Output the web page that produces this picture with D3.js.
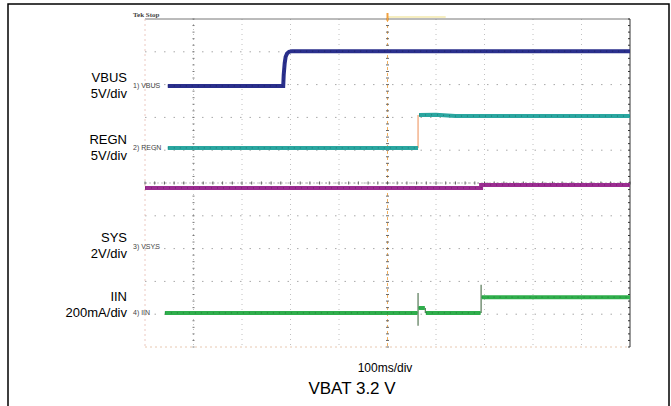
<!DOCTYPE html>
<html>
<head>
<meta charset="utf-8">
<script src="https://cdn.jsdelivr.net/npm/d3@7"></script>
<style>
  body { margin: 0; background: #fff; }
  svg { display: block; font-family: "Liberation Sans", Arial, sans-serif; }
</style>
</head>
<body>
<svg id="chart" width="671" height="406"></svg>
<script>
// time in ms (100 ms/div, 10 div), level in screen divisions (-5..5)
// null = gap in the thick trace (fast edge drawn thin)
const vbusTime  = [47, 285, 286, 288, 290, 293, 297, 303, 1000];
const vbusLevel = [2.96, 2.96, 3.3, 3.65, 3.85, 3.95, 4.0, 4.02, 4.02];

const regnTime  = [47, 563, 563, 565, 600, 640, 1000];
const regnLevel = [1.07, 1.07, null, 2.07, 2.08, 2.04, 2.04];

const sysTime  = [0, 693, 693, 1000];
const sysLevel = [-0.15, -0.15, -0.06, -0.06];

const iinTime  = [41, 562, 563, 564, 577, 578, 579, 692, 693, 694, 1000];
const iinLevel = [-3.96, -3.96, null, -3.81, -3.81, null, -3.96, -3.96, null, -3.48, -3.48];

// thin fast edges: [time, from, to]
const regnEdges = [[563, 1.07, 2.07]];
const iinEdges  = [[563, -3.35, -4.35], [578, -3.81, -3.96], [693, -3.1, -3.96]];

const channels = [
  { name: "VBUS", scale: "5V/div", tag: "1) VBUS", color: "#2a2f8c", t: vbusTime, v: vbusLevel, edges: [], edgeColor: "#2a2f8c" },
  { name: "REGN", scale: "5V/div", tag: "2) REGN", color: "#2aa6a0", t: regnTime, v: regnLevel, edges: regnEdges, edgeColor: "#f0a070" },
  { name: "SYS",  scale: "2V/div", tag: "3) VSYS", color: "#9b2d91", t: sysTime,  v: sysLevel, edges: [], edgeColor: "#9b2d91" },
  { name: "IIN",  scale: "200mA/div", tag: "4) IIN", color: "#2fae4c", t: iinTime, v: iinLevel, edges: iinEdges, edgeColor: "#557755" }
];

// channel marker levels for the tags (divisions)
const tagLevel = [2.96, 1.07, -1.95, -3.96];
// side label positions (divisions)
const labelLevel = [3.0, 1.1, -1.9, -3.7];

const xTicks = d3.range(0, 1001, 100);
const yTicks = d3.range(-5, 6, 1);

const svg = d3.select("#chart");
const x = d3.scaleLinear().domain([0, 1000]).range([145, 630]);
const y = d3.scaleLinear().domain([-5, 5]).range([347, 19]);

// outer frame
svg.append("path")
  .attr("d", "M8,406 L8,4 L669,4 L669,406")
  .attr("fill", "none").attr("stroke", "#000").attr("stroke-width", 1.5);

// grid
const grid = svg.append("g");
grid.selectAll(".vg").data(xTicks.slice(1, -1)).join("line")
  .attr("x1", d => x(d)).attr("x2", d => x(d))
  .attr("y1", y(5)).attr("y2", y(-5))
  .attr("stroke", d => d === 500 ? "#f0b060" : "#c0c0c0")
  .attr("stroke-width", 1)
  .attr("stroke-dasharray", d => d === 500 ? "3,3" : "1,4");
grid.selectAll(".hg").data(yTicks.slice(1, -1)).join("line")
  .attr("x1", x(0)).attr("x2", x(1000))
  .attr("y1", d => y(d)).attr("y2", d => y(d))
  .attr("stroke", "#a8a8a8").attr("stroke-width", 1)
  .attr("stroke-dasharray", "1.5,8");

// minor ticks on centre lines
const minorX = d3.range(0, 1001, 20);
const minorY = d3.range(-5, 5.01, 0.2);
grid.selectAll(".mx").data(minorX).join("line")
  .attr("x1", d => x(d)).attr("x2", d => x(d))
  .attr("y1", y(0) - 1.5).attr("y2", y(0) + 1.5)
  .attr("stroke", "#555").attr("stroke-width", 1);
grid.append("line")
  .attr("x1", x(0)).attr("x2", x(1000)).attr("y1", y(0)).attr("y2", y(0))
  .attr("stroke", "#999").attr("stroke-width", 0.6).attr("stroke-dasharray", "2,2");
grid.selectAll(".my").data(minorY).join("line")
  .attr("x1", x(500) - 1.5).attr("x2", x(500) + 1.5)
  .attr("y1", d => y(d)).attr("y2", d => y(d))
  .attr("stroke", "#666").attr("stroke-width", 1);
grid.selectAll(".my2").data(minorY).join("line")
  .attr("x1", x(100) - 1).attr("x2", x(100) + 1)
  .attr("y1", d => y(d)).attr("y2", d => y(d))
  .attr("stroke", "#777").attr("stroke-width", 1);

// borders of graticule
grid.append("line").attr("x1", x(0)).attr("x2", x(1000)).attr("y1", y(5)).attr("y2", y(5))
  .attr("stroke", "#777").attr("stroke-width", 1);
grid.append("line").attr("x1", x(0)).attr("x2", x(1000)).attr("y1", y(-5)).attr("y2", y(-5))
  .attr("stroke", "#e8c8b0").attr("stroke-width", 1).attr("stroke-dasharray", "2,3");
grid.append("line").attr("x1", x(0)).attr("x2", x(0)).attr("y1", y(5)).attr("y2", y(-5))
  .attr("stroke", "#ecc8c0").attr("stroke-width", 1).attr("stroke-dasharray", "2,3");
grid.append("line").attr("x1", x(1000)).attr("x2", x(1000)).attr("y1", y(5)).attr("y2", y(-5))
  .attr("stroke", "#333").attr("stroke-width", 1);
grid.selectAll(".ry").data(minorY).join("line")
  .attr("x1", x(1000) - 2).attr("x2", x(1000))
  .attr("y1", d => y(d)).attr("y2", d => y(d))
  .attr("stroke", "#333").attr("stroke-width", 1);

// trigger marker at top
grid.append("line").attr("x1", x(500)).attr("x2", x(620)).attr("y1", y(5) - 2).attr("y2", y(5) - 2)
  .attr("stroke", "#f6eec0").attr("stroke-width", 2);
grid.append("line").attr("x1", x(500)).attr("x2", x(500)).attr("y1", y(5) - 6).attr("y2", y(5) + 2)
  .attr("stroke", "#f0a040").attr("stroke-width", 2);

svg.append("text").attr("x", 133).attr("y", 17)
  .attr("font-family", "Liberation Serif, serif").attr("font-size", 7).attr("font-weight", "bold")
  .attr("fill", "#444").text("Tek Stop");

// traces
const line = d3.line().defined(d => d[1] !== null).x(d => x(d[0])).y(d => y(d[1]));
channels.forEach(ch => {
  const pts = ch.t.map((t, i) => [t, ch.v[i]]);
  svg.append("g").selectAll("line").data(ch.edges).join("line")
    .attr("x1", d => x(d[0])).attr("x2", d => x(d[0]))
    .attr("y1", d => y(d[1])).attr("y2", d => y(d[2]))
    .attr("stroke", ch.edgeColor).attr("stroke-width", 1.2);
  svg.append("path").datum(pts)
    .attr("d", line)
    .attr("fill", "none")
    .attr("stroke", ch.color)
    .attr("stroke-width", 4)
    .attr("stroke-linejoin", "miter");
  svg.append("path").datum(pts)
    .attr("d", line)
    .attr("fill", "none")
    .attr("stroke", d3.color(ch.color).darker(1.2))
    .attr("stroke-width", 0.8)
    .attr("stroke-dasharray", "1,5");
});

// channel tags
channels.forEach((ch, i) => {
  svg.append("text")
    .attr("x", 133).attr("y", y(tagLevel[i]) + 2.5)
    .attr("font-size", 7).attr("fill", "#444")
    .text(ch.tag);
});

// side labels
channels.forEach((ch, i) => {
  const g = svg.append("text")
    .attr("text-anchor", "end").attr("font-size", 13).attr("fill", "#000");
  g.append("tspan").attr("x", 127).attr("y", y(labelLevel[i]) - 3).text(ch.name);
  g.append("tspan").attr("x", 127).attr("y", y(labelLevel[i]) + 13).text(ch.scale);
});

// bottom captions
svg.append("text").attr("x", 385).attr("y", 372).attr("text-anchor", "middle")
  .attr("font-size", 12).text("100ms/div");
svg.append("text").attr("x", 352).attr("y", 394).attr("text-anchor", "middle")
  .attr("font-size", 17).text("VBAT 3.2 V");
</script>
</body>
</html>
